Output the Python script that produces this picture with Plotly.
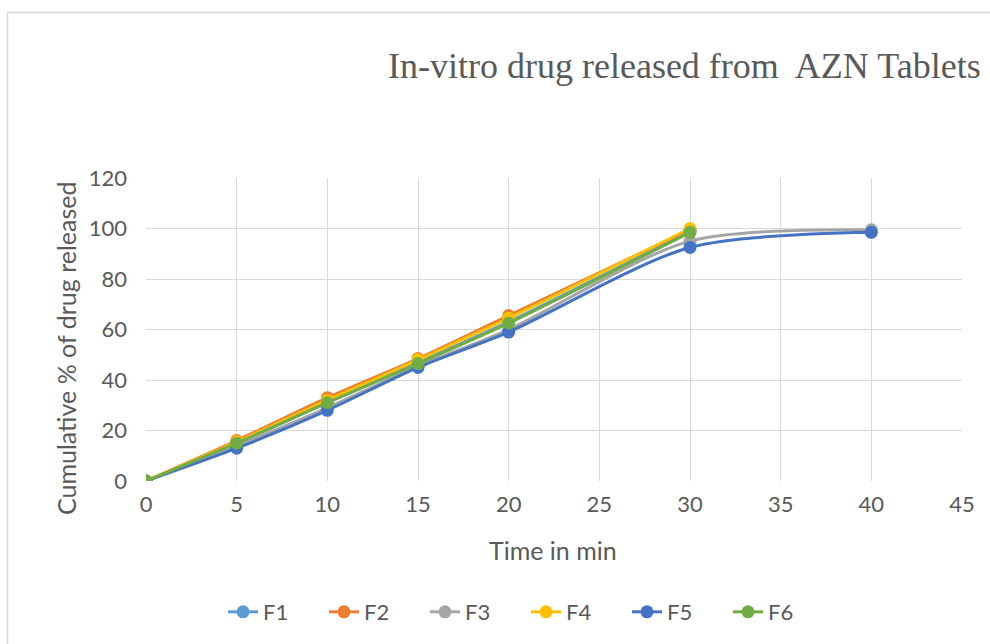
import plotly.graph_objects as go

# Sampling times (min) and cumulative % drug released for each formulation
time_min = [0, 5, 10, 15, 20, 30, 40]
F1 = [0, 15.0, 31.0, 47.0, 63.0, 99.0]
F2 = [0, 16.0, 33.0, 48.5, 65.5, 99.5]
F3 = [0, 14.0, 29.0, 45.5, 60.0, 95.0, 99.5]
F4 = [0, 15.5, 32.0, 48.0, 64.5, 100.0]
F5 = [0, 13.0, 28.0, 45.0, 59.0, 92.5, 98.5]
F6 = [0, 15.0, 31.0, 46.5, 62.5, 98.5]

series_names = ["F1", "F2", "F3", "F4", "F5", "F6"]
series_values = [F1, F2, F3, F4, F5, F6]
series_colors = ["#5B9BD5", "#ED7D31", "#A5A5A5", "#FFC000", "#4472C4", "#70AD47"]

x_ticks = [0, 5, 10, 15, 20, 25, 30, 35, 40, 45]
y_ticks = [0, 20, 40, 60, 80, 100, 120]

SANS = "Lato, 'Open Sans', sans-serif"
SERIF = "'Liberation Serif', 'Times New Roman', serif"
GRID = "#D9D9D9"
TEXT = "#595959"

W, H = 990, 644
L, R, T, B = 146, 28, 178, 163
pw, ph = W - L - R, H - T - B


def px_to_paper_x(px):
    return (px - L) / pw


def px_to_paper_y(py):
    return (H - B - py) / ph


fig = go.Figure()
for name, vals, color in zip(series_names, series_values, series_colors):
    fig.add_trace(go.Scatter(
        x=time_min[:len(vals)], y=vals, name=name, mode="lines+markers",
        line=dict(color=color, width=3, shape="spline", smoothing=0.8),
        marker=dict(color=color, size=13),
    ))

fig.update_layout(
    width=W, height=H,
    margin=dict(l=L, r=R, t=T, b=B, autoexpand=False),
    paper_bgcolor="white", plot_bgcolor="white",
    showlegend=True,
    legend=dict(
        orientation="h", x=px_to_paper_x(526), xanchor="center",
        y=px_to_paper_y(612), yanchor="middle",
        font=dict(family=SANS, size=22, color=TEXT),
        tracegroupgap=0, entrywidth=56, entrywidthmode="pixels",
    ),
    xaxis=dict(
        range=[0, 45], tickvals=x_ticks, showgrid=True, gridcolor=GRID, gridwidth=1,
        zeroline=False, showline=False, ticks="",
        tickfont=dict(family=SANS, size=22, color=TEXT), ticklabelstandoff=8,
    ),
    yaxis=dict(
        range=[0, 120], tickvals=y_ticks, showgrid=True, gridcolor=GRID, gridwidth=1,
        zeroline=False, showline=False, ticks="",
        tickfont=dict(family=SANS, size=22, color=TEXT), ticklabelstandoff=18,
    ),
    annotations=[
        dict(text="In-vitro drug released from  AZN Tablets", xref="paper", yref="paper",
             x=px_to_paper_x(684), y=px_to_paper_y(66), xanchor="center", yanchor="middle",
             showarrow=False, font=dict(family=SERIF, size=36, color=TEXT)),
        dict(text="Cumulative % of drug released", xref="paper", yref="paper",
             x=px_to_paper_x(66), y=px_to_paper_y(349), xanchor="center", yanchor="middle",
             textangle=-90, showarrow=False, font=dict(family=SANS, size=25, color=TEXT)),
        dict(text="Time in min", xref="paper", yref="paper",
             x=px_to_paper_x(553), y=px_to_paper_y(550), xanchor="center", yanchor="middle",
             showarrow=False, font=dict(family=SANS, size=25, color=TEXT)),
    ],
    shapes=[
        dict(type="rect", xref="paper", yref="paper",
             x0=px_to_paper_x(7.5), x1=px_to_paper_x(1000),
             y0=px_to_paper_y(660), y1=px_to_paper_y(12.5),
             line=dict(color=GRID, width=1.5), fillcolor="rgba(0,0,0,0)", layer="below"),
    ],
)

fig.write_html("out.html")
